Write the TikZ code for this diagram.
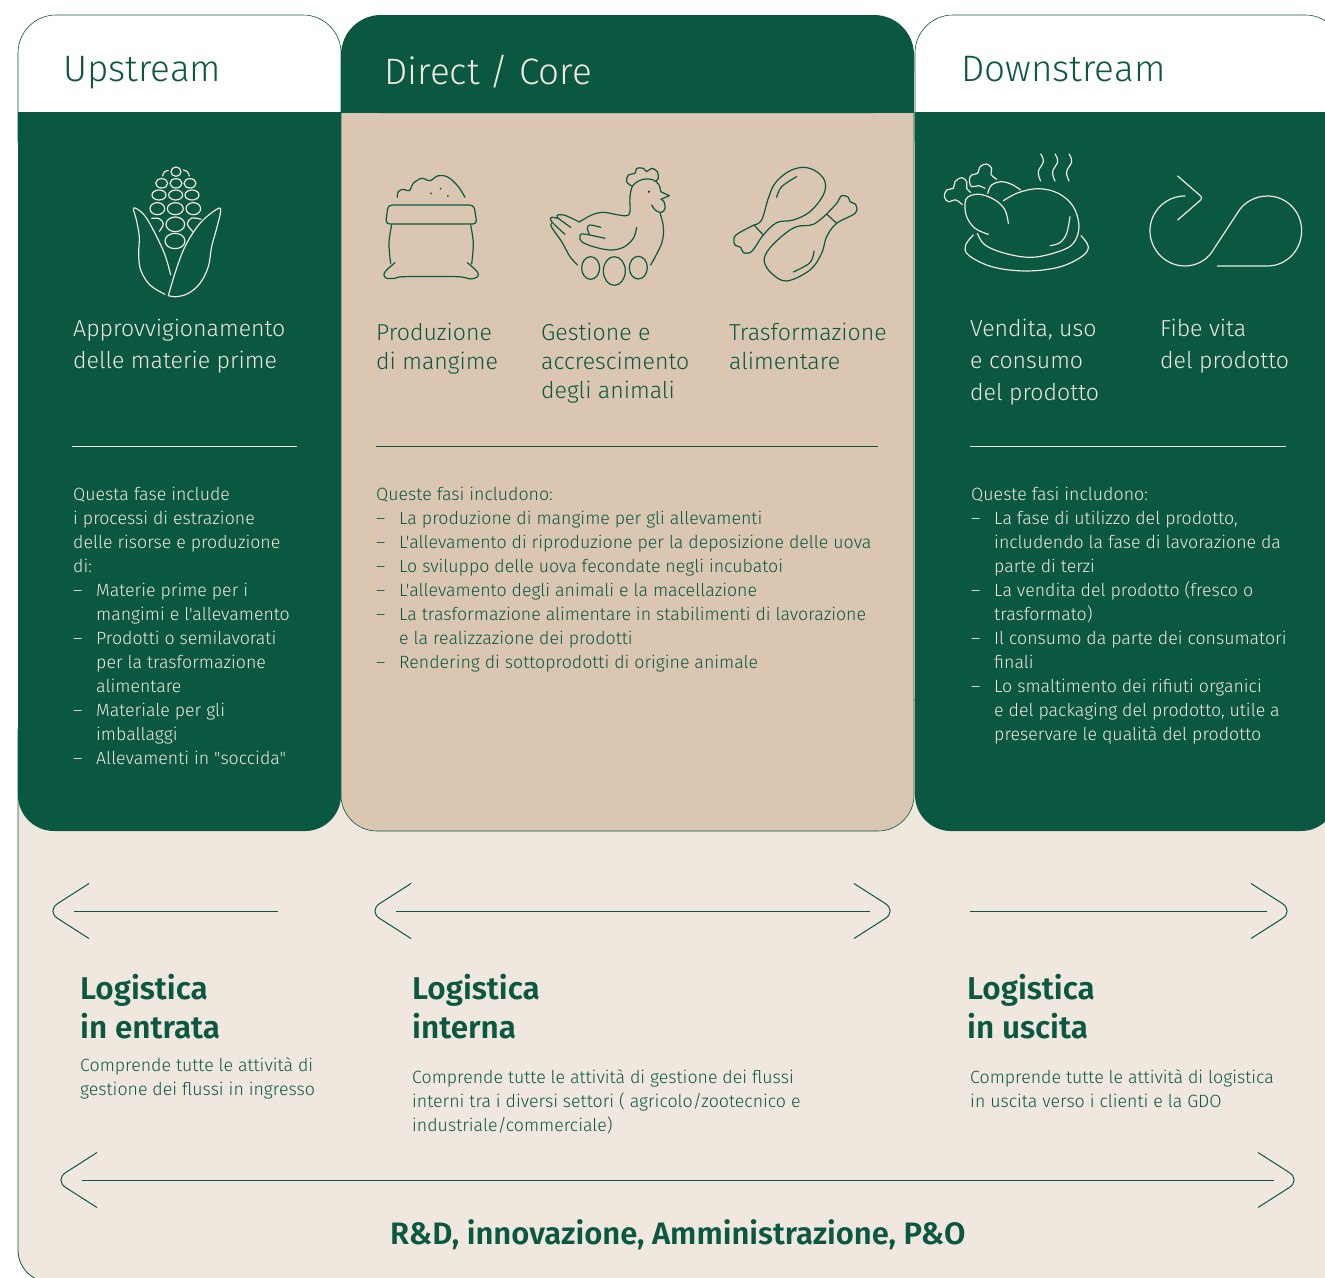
\documentclass[tikz,border=0pt]{standalone}
\usepackage{fontspec}
\setmainfont{Fira Sans}[Ligatures=TeXOff, UprightFont=* Light, BoldFont=* SemiBold]
\usepackage{xcolor}
\definecolor{pine}{HTML}{0B5842}
\definecolor{sand}{HTML}{DAC6B1}
\definecolor{cream}{HTML}{F0E7DE}
\newcommand{\hdrtop}{15}
\newcommand{\hdrbot}{112}
\newcommand{\panbot}{831}
\newcommand{\fase}{\makebox[23pt][l]{–}}
\newcommand{\segue}{\hspace*{23pt}}
\newcommand{\chevleft}[1]{\draw[flowline, shift={(#1)}, rounded corners=14pt] (15,-27.5) -- (-28,0) -- (15,27.5);}
\newcommand{\chevright}[1]{\draw[flowline, shift={(#1)}, rounded corners=14pt] (-16,-27.5) -- (27,0) -- (-16,27.5);}
\tikzset{
    flowline/.style={pine, line width=1pt},
    iconline/.style={line width=1.2pt, line cap=round, line join=round},
    titletxt/.style={anchor=north west, inner sep=0pt, font=\fontsize{36.8}{36}\selectfont},
    steptxt/.style={anchor=north west, inner sep=0pt, align=left, font=\fontsize{23.1}{29}\selectfont},
    widesteptxt/.style={steptxt, font=\fontsize{23.1}{32}\selectfont},
    bodytxt/.style={anchor=north west, inner sep=0pt, align=left, font=\fontsize{17.75}{24}\selectfont},
    logtxt/.style={anchor=north west, inner sep=0pt, align=left, pine, font=\bfseries\fontsize{31.5}{39}\selectfont},
}
\begin{document}
\begin{tikzpicture}[x=1pt, y=-1pt]
    \useasboundingbox (0, 0) rectangle (1325, 1277);
    \clip (0, 0) rectangle (1325, 1277);

    % panels
    \fill[white] (0, 0) rectangle (1325, 1277);
    \draw[pine, line width=.8pt, fill=cream, rounded corners=32pt] (18, 700) -- (18, 1282) -- (1400, 1282) -- (1400, 700) -- cycle;
    \draw[pine, line width=.6pt, fill=white, rounded corners=38pt] (18, \hdrbot+30) -- (18, \hdrtop) -- (341, \hdrtop) -- (341, \hdrbot+30);
    \draw[pine, line width=.6pt, fill=white, rounded corners=38pt] (915, \hdrbot+30) -- (915, \hdrtop) -- (1343, \hdrtop) -- (1343, \hdrbot+30);
    \fill[pine, rounded corners=36pt] (18, \hdrbot) -- (18, \panbot) -- (341, \panbot) -- (341, \hdrbot) -- cycle;
    \fill[pine] (18, \hdrbot) rectangle (341, \hdrbot+50);
    \fill[pine, rounded corners=36pt] (915, \hdrbot) -- (915, \panbot) -- (1337, \panbot) -- (1337, \hdrbot) -- cycle;
    \fill[pine] (915, \hdrbot) rectangle (1337, \hdrbot+50);
    \draw[pine, line width=.6pt, fill=sand, rounded corners=36pt] (341, \hdrbot) -- (341, \panbot) -- (914, \panbot) -- (914, \hdrbot);
    \fill[pine, rounded corners=40pt] (341, \hdrbot+1) -- (341, \hdrtop) -- (914, \hdrtop) -- (914, \hdrbot+1) -- cycle;
    \fill[pine] (341, 70) rectangle (914, \hdrbot+1);

    % titles
    \node[titletxt, pine] (upstream) at (63, 56) {Upstream};
    \node[titletxt, cream] (direct) at (384, 54.5) {Direct / Core};
    \node[titletxt, pine] (downstream) at (961, 56) {Downstream};

    % phase names
    \node[widesteptxt, cream] (approv) at (73, 319) {Approvvigionamento\\delle materie prime};
    \node[steptxt, pine] (mangime) at (376, 323) {Produzione\\di mangime};
    \node[steptxt, pine] (gestione) at (541, 323) {Gestione e\\accrescimento\\degli animali};
    \node[steptxt, pine] (trasf) at (729, 323) {Trasformazione\\alimentare};
    \node[widesteptxt, cream] (vendita) at (970, 319) {Vendita, uso\\e consumo\\del prodotto};
    \node[widesteptxt, cream] (fine) at (1160, 319) {Fibe vita\\del prodotto};

    % dividers
    \draw[cream, line width=.6pt] (72, 446) -- (297, 446);
    \draw[pine, line width=.8pt] (376, 446) -- (878, 446);
    \draw[cream, line width=.6pt] (970, 446) -- (1286, 446);

    % phase texts
    \node[bodytxt, cream] (uptext) at (73, 486.5) {Questa fase include\\i processi di estrazione\\delle risorse e produzione\\di:\\\fase Materie prime per i\\\segue mangimi e l'allevamento\\\fase Prodotti o semilavorati\\\segue per la trasformazione\\\segue alimentare\\\fase Materiale per gli\\\segue imballaggi\\\fase Allevamenti in "soccida"};
    \node[bodytxt, pine] (coretext) at (376, 486.5) {Queste fasi includono:\\\fase La produzione di mangime per gli allevamenti\\\fase L'allevamento di riproduzione per la deposizione delle uova\\\fase Lo sviluppo delle uova fecondate negli incubatoi\\\fase L'allevamento degli animali e la macellazione\\\fase La trasformazione alimentare in stabilimenti di lavorazione\\\segue e la realizzazione dei prodotti\\\fase Rendering di sottoprodotti di origine animale};
    \node[bodytxt, cream] (downtext) at (971, 486.5) {Queste fasi includono:\\\fase La fase di utilizzo del prodotto,\\\segue includendo la fase di lavorazione da\\\segue parte di terzi\\\fase La vendita del prodotto (fresco o\\\segue trasformato)\\\fase Il consumo da parte dei consumatori\\\segue finali\\\fase Lo smaltimento dei rifiuti organici\\\segue e del packaging del prodotto, utile a\\\segue preservare le qualità del prodotto};

    % logistics arrows
    \coordinate (inend) at (74, 911);
    \coordinate (instart) at (278, 911);
    \coordinate (midleft) at (396, 911);
    \coordinate (midright) at (870, 911);
    \coordinate (outstart) at (970, 911);
    \coordinate (outend) at (1267, 911);
    \coordinate (rdleft) at (82, 1180);
    \coordinate (rdright) at (1274, 1180);
    \draw[flowline] (instart) -- (inend);
    \chevleft{inend}
    \draw[flowline] (midleft) -- (midright);
    \chevleft{midleft}
    \chevright{midright}
    \draw[flowline] (outstart) -- (outend);
    \chevright{outend}
    \draw[flowline] (rdleft) -- (rdright);
    \chevleft{rdleft}
    \chevright{rdright}

    % logistics labels
    \node[logtxt] (entrata) at (80, 974) {Logistica\\in entrata};
    \node[bodytxt, pine] (entratatext) at (80, 1057.5) {Comprende tutte le attività di\\gestione dei flussi in ingresso};
    \node[logtxt] (interna) at (412, 974) {Logistica\\interna};
    \node[bodytxt, pine] (internatext) at (412, 1069.5) {Comprende tutte le attività di gestione dei flussi\\interni tra i diversi settori ( agricolo/zootecnico e\\industriale/commerciale)};
    \node[logtxt] (uscita) at (967, 974) {Logistica\\in uscita};
    \node[bodytxt, pine] (uscitatext) at (970, 1069.5) {Comprende tutte le attività di logistica\\in uscita verso i clienti e la GDO};
    \node[logtxt, font=\bfseries\fontsize{31}{39}\selectfont] (ricerca) at (390, 1219) {R\&D, innovazione, Amministrazione, P\&O};

    % corn and sack
    \begin{scope}[shift={(100, 140)}, scale=.3333]
        \foreach \kx/\ky/\krx/\kry in {228/95/15/14, 185/130/18/14, 228/130/18/14, 270/130/18/14, 177/165/21/15, 227/165/21/15, 276/165/21/15, 172/206/22/18, 226/206/24/18, 280/206/22/18, 226/253/28/22, 225/303/30/23}
            \draw[iconline, cream] (\kx, \ky) ellipse [x radius=\krx, y radius=\kry];
        \draw[iconline, cream] plot[smooth, tension=.6] coordinates {(188,108) (193,96) (205,91)};
        \draw[iconline, cream] plot[smooth, tension=.6] coordinates {(250,90) (262,95) (268,108)};
        \draw[iconline, cream] plot[smooth, tension=.6] coordinates {(155,235) (178,236) (190,252) (178,274)};
        \draw[iconline, cream] plot[smooth, tension=.6] coordinates {(303,238) (275,234) (262,252) (278,274)};
        \draw[iconline, cream] plot[smooth, tension=.6] coordinates {(195,463) (150,435) (122,390) (116,340) (118,290) (108,235) (100,208) (108,205) (135,228) (165,280) (195,345) (212,405)};
        \draw[iconline, cream] plot[smooth, tension=.6] coordinates {(205,467) (225,400) (255,320) (300,250) (350,208) (362,212) (350,265) (335,320) (325,380) (300,430) (265,460) (230,470) (205,467)};

        \draw[iconline, pine] plot[smooth, tension=.6] coordinates {(892,172) (895,155) (910,148) (928,152) (940,130) (965,115) (990,122) (1015,107) (1045,112) (1075,140) (1095,172)};
        \foreach \gx/\gy in {993/160, 1022/146, 1044/168}
            \fill[pine] (\gx, \gy) circle [radius=3];
        \draw[iconline, pine, rounded corners=4pt] (864,195) -- (1122,195) -- (1131,252) -- (857,252) -- cycle;
        \draw[iconline, pine] plot[smooth, tension=.6] coordinates {(875,255) (867,310) (872,370)};
        \draw[iconline, pine] plot[smooth, tension=.6] coordinates {(1112,255) (1120,310) (1115,372)};
        \draw[iconline, pine] plot[smooth, tension=.6] coordinates {(885,368) (858,392) (852,405) (860,415) (885,415) (915,410) (1070,410) (1110,417) (1130,412) (1135,402) (1125,388) (1102,368)};
    \end{scope}

    % hen and drumsticks
    \begin{scope}[shift={(530, 140)}, scale=.3333]
        \draw[iconline, pine] plot[smooth, tension=.6] coordinates {(305,138) (290,125) (295,105) (315,100) (320,85) (340,85) (350,95) (365,85) (382,95) (385,115) (378,122)};
        \draw[iconline, pine] plot[smooth, tension=.6] coordinates {(392,155) (387,135) (370,120) (340,118) (310,135) (300,170) (300,215) (290,227) (260,224) (220,217) (185,225) (148,246)};
        \draw[iconline, pine] (392,155) -- (418,167) -- (393,178);
        \draw[iconline, pine] plot[smooth, tension=.6] coordinates {(365,195) (378,212) (395,217) (405,205) (402,185) (393,178)};
        \fill[pine] (357,155) circle [radius=4];
        \draw[iconline, pine] plot[smooth, tension=.6] coordinates {(390,220) (400,260) (395,310) (362,375)};
        \draw[iconline, pine] plot[smooth, tension=.6] coordinates {(148,246) (110,228) (88,224) (82,232) (122,262)};
        \draw[iconline, pine] plot[smooth, tension=.6] coordinates {(85,236) (65,232) (65,245) (105,283)};
        \draw[iconline, pine] plot[smooth, tension=.6] coordinates {(65,250) (65,262) (95,305) (120,350) (143,375)};
        \draw[iconline, pine] plot[smooth, tension=.6] coordinates {(320,262) (310,295) (280,322) (240,330) (190,320) (155,305) (150,290) (160,282) (225,295)};
        \draw[iconline, pine] plot[smooth, tension=.6] coordinates {(178,283) (172,265) (180,255) (212,262)};
        \foreach \ex/\ey/\erx/\ery in {182/384/27/34, 253/393/33/43, 325/383/27/34}
            \draw[iconline, pine] (\ex, \ey) ellipse [x radius=\erx, y radius=\ery];

        \draw[iconline, pine] plot[smooth, tension=.6] coordinates {(672,255) (625,280) (612,295) (615,315) (632,322) (640,338) (660,338) (675,322) (700,285) (740,248) (790,240) (840,215) (880,165) (885,125) (860,95) (820,82) (775,95) (735,130) (715,175) (695,240) (672,255)};
        \draw[iconline, pine] (672,255) -- (700,285);
        \draw[iconline, pine] plot[smooth, tension=.6] coordinates {(740,172) (755,140) (800,110)};
        \draw[iconline, pine] plot[smooth, tension=.6] coordinates {(890,222) (920,190) (935,167) (955,172) (960,185) (978,195) (975,220) (920,250) (890,290) (875,340) (840,390) (770,423) (725,400) (703,365) (715,330) (760,285) (800,260) (850,253) (890,222)};
        \draw[iconline, pine] (890,222) -- (920,250);
        \draw[iconline, pine] plot[smooth, tension=.6] coordinates {(852,333) (840,368) (790,396)};
    \end{scope}

    % roast and life cycle
    \begin{scope}[shift={(925, 140)}, scale=.3333]
        \foreach \sx in {0, 43, 85}
            \draw[iconline, cream, xshift=\sx] plot[smooth, tension=.7] coordinates {(347,42) (355,65) (340,95) (347,123)};
        \draw[iconline, cream] plot[smooth, tension=.6] coordinates {(112,194) (92,180) (70,185) (58,170) (65,150) (85,145) (90,125) (110,113) (125,125) (125,145) (137,157)};
        \draw[iconline, cream] plot[smooth, tension=.6] coordinates {(180,145) (160,137) (140,140) (133,120) (140,105) (158,100) (165,80) (185,72) (200,85) (198,103) (215,118)};
        \draw[iconline, cream] plot[smooth, tension=.6] coordinates {(190,283) (150,265) (125,230) (120,190) (130,170) (165,163) (210,180) (240,210) (250,250)};
        \draw[iconline, cream] plot[smooth, tension=.6] coordinates {(188,160) (200,135) (230,125) (260,133) (287,150)};
        \draw[iconline, cream] plot[smooth, tension=.6] coordinates {(235,182) (280,158) (340,146) (400,160) (445,200) (462,260) (445,310) (400,335) (320,352) (240,340) (180,315) (157,280)};
        \draw[iconline, cream] plot[smooth, tension=.6] coordinates {(435,230) (425,280) (405,308) (376,317)};
        \draw[iconline, cream] plot[smooth, tension=.6] coordinates {(145,285) (122,315) (130,345) (200,380) (300,393) (400,382) (470,350) (490,320) (468,287)};
        \draw[iconline, cream, rounded corners=3pt] (758,108) -- (834,174) -- (758,240);
        \draw[iconline, cream] (780,168) .. controls (722,168) and (675,215) .. (675,272) .. controls (675,330) and (722,378) .. (780,378) .. controls (812,378) and (843,362) .. (860,337) -- (938,218) .. controls (955,188) and (990,168) .. (1027,168) .. controls (1085,168) and (1130,215) .. (1130,272) .. controls (1130,330) and (1085,378) .. (1027,378) -- (877,378);
    \end{scope}
\end{tikzpicture}
\end{document}
